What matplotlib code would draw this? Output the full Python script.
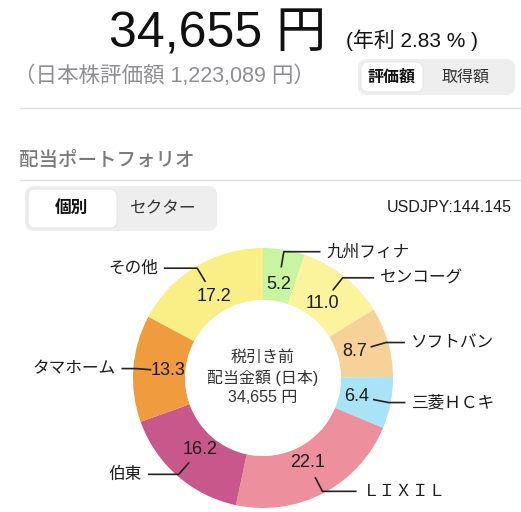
import numpy as np
import matplotlib.pyplot as plt
from matplotlib.patches import FancyBboxPatch, Circle

# latin glyphs from Liberation Sans (Helvetica-like), Japanese from Noto CJK
plt.rcParams['font.family'] = ['Liberation Sans', 'Noto Sans CJK JP', 'DejaVu Sans']

# dividend share per holding (%), clockwise from the top
names = ['九州フィナ', 'センコーグ', 'ソフトバン', '三菱ＨＣキ', 'ＬＩＸＩＬ', '伯東', 'タマホーム', 'その他']
shares = [5.2, 11.0, 8.7, 6.4, 22.1, 16.2, 13.3, 17.2]
colors = ['#c9f5a0', '#fbf49c', '#f6d198', '#a8e3f7', '#ed8f9d', '#c8578b', '#ef9b3e', '#f9ef86']

total_div = '34,655 円'
yield_txt = '(年利 2.83 % )'
jp_value = '（日本株評価額 1,223,089 円）'
fx_txt = 'USDJPY:144.145'

W, H = 521, 512
fig = plt.figure(figsize=(W / 100, H / 100), dpi=100)
ax = fig.add_axes([0, 0, 1, 1])

# donut (y axis is flipped below, so counterclock=True reads clockwise)
cx, cy, R = 263, 378, 130
wedges, _ = ax.pie(shares, colors=colors, startangle=-90, counterclock=True,
                   center=(cx, cy), radius=R,
                   wedgeprops=dict(width=52, linewidth=0))
ax.add_patch(Circle((cx, cy), 78, color='white', alpha=0.5, lw=0, zorder=3))
ax.add_patch(Circle((cx, cy), 68, color='white', lw=0, zorder=4))

for w, name, val in zip(wedges, names, shares):
    th = np.deg2rad((w.theta1 + w.theta2) / 2)
    ux, uy = np.cos(th), np.sin(th)
    ax.text(cx + 95 * ux, cy + 95 * uy, f'{val:.1f}', ha='center', va='center',
            fontsize=13, color='#1c1c1c', zorder=5)
    p1 = (cx + 112 * ux, cy + 112 * uy)
    p2 = (cx + 128 * ux, cy + 128 * uy)
    side = 1 if ux >= 0 else -1
    L = 12 + 25 * abs(uy)
    p3 = (p2[0] + side * L, p2[1])
    ax.plot([p1[0], p2[0], p3[0]], [p1[1], p2[1], p3[1]], color='#222222',
            lw=1.2, zorder=5, solid_capstyle='butt')
    ax.text(p3[0] + side * 6, p3[1], name, ha='left' if side > 0 else 'right',
            va='center', fontsize=12, color='#1c1c1c', zorder=5)

# centre caption
for yy, t in zip([357, 378, 398], ['税引き前', '配当金額 (日本)', total_div]):
    ax.text(cx, yy, t, ha='center', va='center', fontsize=11.5, color='#333333', zorder=6)

# header
ax.text(326, 47, total_div, ha='right', va='baseline', fontsize=36, color='#111111')
ax.text(346, 47, yield_txt, ha='left', va='baseline', fontsize=15, color='#111111')
ax.text(14, 76, jp_value, ha='left', va='center', fontsize=15.5, color='#8e8e93')


def segment(x0, y0, x1, y1, sx1, left, right, lx, rx, fs):
    ax.add_patch(FancyBboxPatch((x0, y0), x1 - x0, y1 - y0,
                                boxstyle='round,pad=0,rounding_size=9',
                                fc='#eeeeef', ec='none'))
    ax.add_patch(FancyBboxPatch((x0 + 3, y0 + 3), sx1 - x0 - 3, y1 - y0 - 6,
                                boxstyle='round,pad=0,rounding_size=7',
                                fc='white', ec='#e2e2e2', lw=0.6))
    ym = (y0 + y1) / 2
    ax.text(lx, ym, left, ha='center', va='center', fontsize=fs,
            fontweight='bold', color='#111111')
    ax.text(rx, ym, right, ha='center', va='center', fontsize=fs, color='#333333')


segment(358, 59, 515, 95, 423, '評価額', '取得額', 392, 466, 11.5)
ax.plot([20, W], [108, 108], color='#dedede', lw=1)

ax.text(19, 160, '配当ポートフォリオ', ha='left', va='center', fontsize=14,
        color='#7a7a7a', fontweight='medium')
ax.plot([20, W], [180, 180], color='#dedede', lw=1)

segment(25, 186, 217, 231, 117, '個別', 'セクター', 71, 163, 12)
ax.text(512, 208, fx_txt, ha='right', va='center', fontsize=11.5, color='#1c1c1c')

ax.set_xlim(0, W)
ax.set_ylim(H, 0)
ax.set_aspect('equal')
ax.axis('off')

fig.savefig('out.png', dpi=100, facecolor='white')
